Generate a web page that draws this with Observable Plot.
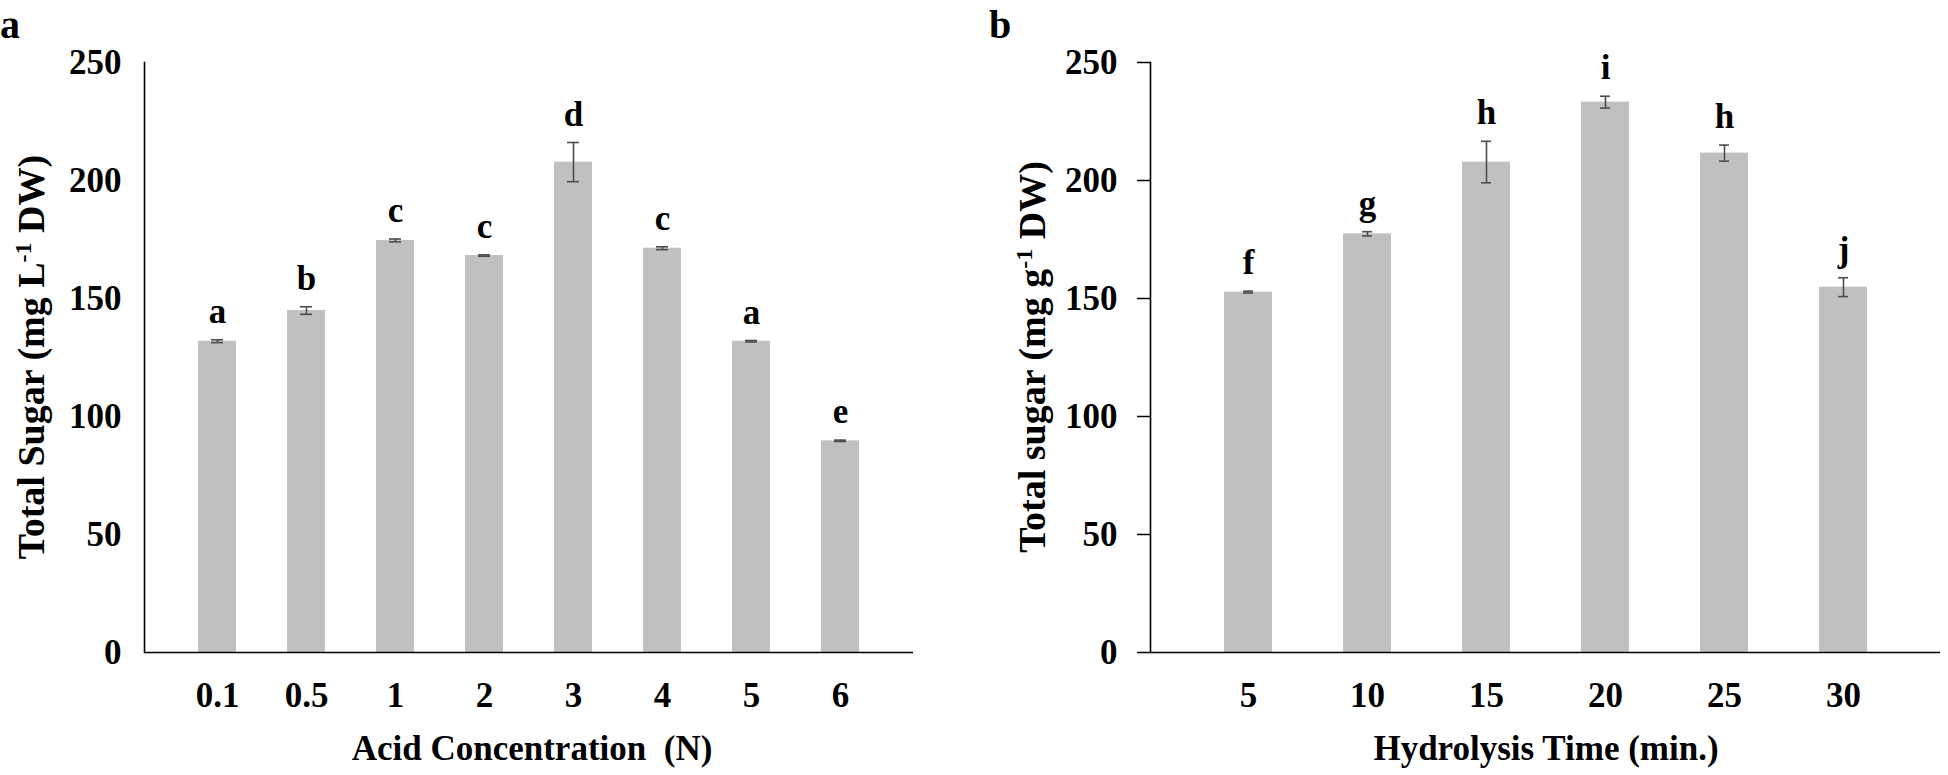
<!DOCTYPE html>
<html>
<head>
<meta charset="utf-8">
<script src="https://cdn.jsdelivr.net/npm/d3@7"></script>
<script src="https://cdn.jsdelivr.net/npm/@observablehq/plot@0.6"></script>
<style>
  html, body { margin: 0; padding: 0; background: #fff; }
  #wrap { display: flex; width: 1948px; height: 775px; }
  svg { font-family: "Liberation Serif", "Times New Roman", serif; font-weight: bold; }
</style>
</head>
<body>
<div id="wrap"></div>
<script>
// ---- Panel a: acid concentration ----
const acidConc = ["0.1", "0.5", "1", "2", "3", "4", "5", "6"];
const acidSugar = [131.9, 144.9, 174.6, 168.2, 207.8, 171.3, 131.9, 89.7];
const acidErr = [0.6, 1.6, 0.6, 0.3, 8.3, 0.6, 0.3, 0.3];
const acidLetters = ["a", "b", "c", "c", "d", "c", "a", "e"];

// ---- Panel b: hydrolysis time ----
const timeMin = ["5", "10", "15", "20", "25", "30"];
const timeSugar = [152.7, 177.4, 207.8, 233.2, 211.6, 154.8];
const timeErr = [0.4, 0.9, 8.8, 2.5, 3.4, 4.0];
const timeLetters = ["f", "g", "h", "i", "h", "j"];

const yTicks = [0, 50, 100, 150, 200, 250];

const FONT = '"Liberation Serif", "Times New Roman", serif';
const BAR = "#c0c0c0";
const ERR = "#4d4d4d";

function makePanel(cfg) {
  const rows = cfg.cats.map((c, i) => ({
    cat: c, v: cfg.vals[i], e: cfg.errs[i], lo: cfg.vals[i] - cfg.errs[i], hi: cfg.vals[i] + cfg.errs[i], lab: cfg.letters[i]
  }));
  const plot = Plot.plot({
    width: cfg.width,
    height: 775,
    marginLeft: cfg.marginLeft,
    marginRight: cfg.marginRight,
    marginTop: 62,
    marginBottom: 123,
    style: {fontFamily: FONT, fontSize: "35px", fontWeight: "bold", background: "#fff", color: "#000"},
    x: {domain: cfg.cats, padding: cfg.padding, label: null},
    y: {domain: [0, 250], label: null},
    marks: [
      Plot.barY(rows, {x: "cat", y: "v", fill: BAR}),
      Plot.ruleX(rows, {x: "cat", y1: "lo", y2: "hi", stroke: ERR, strokeWidth: 1.6}),
      Plot.tickY(rows, {x: "cat", y: "lo", stroke: ERR, strokeWidth: 1.6, insetLeft: cfg.capInset, insetRight: cfg.capInset}),
      Plot.tickY(rows, {x: "cat", y: "hi", stroke: ERR, strokeWidth: 1.6, insetLeft: cfg.capInset, insetRight: cfg.capInset}),
      Plot.text(rows, {x: "cat", y: "hi", text: "lab", dy: -17, lineAnchor: "bottom", fontSize: 35, fontWeight: "bold", fontFamily: FONT, fill: "#000"}),
      Plot.axisX({tickSize: 0, tickPadding: 30, fontSize: 35, fontWeight: "bold", label: null}),
      Plot.axisY({ticks: yTicks, tickSize: cfg.yTickSize, tickPadding: cfg.yTickPadding, stroke: "#000", strokeWidth: 1.5, fontSize: 35, fontWeight: "bold", label: null}),
      Plot.ruleY([0], {stroke: "#000", strokeWidth: 1.6}),
      Plot.frame({anchor: "left", stroke: "#000", strokeWidth: 1.6})
    ]
  });
  const svg = d3.select(plot);
  // y-axis title with superscript
  const yt = svg.append("text")
    .attr("transform", `translate(${cfg.yTitleX},357) rotate(-90)`)
    .attr("text-anchor", "middle")
    .attr("dy", "0.35em")
    .attr("font-size", 38)
    .attr("font-weight", "bold")
    .attr("font-family", FONT)
    .attr("fill", "#000");
  yt.append("tspan").text(cfg.yTitle[0]);
  yt.append("tspan").attr("font-size", 24).attr("baseline-shift", "super").text(cfg.yTitle[1]);
  yt.append("tspan").text(cfg.yTitle[2]);
  // x-axis title
  svg.append("text")
    .attr("x", cfg.xTitleX).attr("y", 760)
    .attr("text-anchor", "middle")
    .attr("font-size", 35)
    .attr("font-weight", "bold")
    .attr("font-family", FONT)
    .attr("fill", "#000")
    .attr("xml:space", "preserve")
    .style("white-space", "pre")
    .text(cfg.xTitle);
  // panel letter
  svg.append("text")
    .attr("x", cfg.panelX).attr("y", 38)
    .attr("font-size", 40)
    .attr("font-weight", "bold")
    .attr("font-family", FONT)
    .attr("fill", "#000")
    .text(cfg.panel);
  return plot;
}

const wrap = document.getElementById("wrap");
wrap.appendChild(makePanel({
  cats: acidConc, vals: acidSugar, errs: acidErr, letters: acidLetters,
  width: 975, marginLeft: 144, marginRight: 62, padding: 0.573, capInset: 13,
  yTickSize: 0, yTickPadding: 23,
  yTitle: ["Total Sugar (mg L", "-1", " DW)"], yTitleX: 31,
  xTitle: "Acid Concentration  (N)", xTitleX: 532,
  panel: "a", panelX: 10
}));
wrap.appendChild(makePanel({
  cats: timeMin, vals: timeSugar, errs: timeErr, letters: timeLetters,
  width: 973, marginLeft: 175, marginRight: 8, padding: 0.6, capInset: 19,
  yTickSize: 13, yTickPadding: 20,
  yTitle: ["Total sugar (mg g", "-1", " DW)"], yTitleX: 57,
  xTitle: "Hydrolysis Time (min.)", xTitleX: 571,
  panel: "b", panelX: 25
}));
</script>
</body>
</html>
